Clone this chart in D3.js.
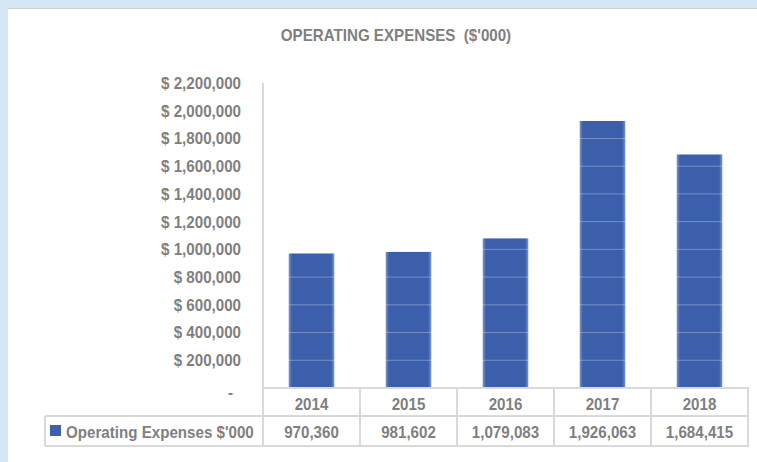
<!DOCTYPE html>
<html><head><meta charset="utf-8">
<script src="https://cdn.jsdelivr.net/npm/d3@7"></script>
<style>
html,body{margin:0;padding:0;background:#d5e6f5;}
svg{display:block;}
</style></head>
<body>
<script>
const categories = ["2014","2015","2016","2017","2018"];
const values = [970360, 981602, 1079083, 1926063, 1684415];
const valueLabels = ["970,360","981,602","1,079,083","1,926,063","1,684,415"];
const yTicks = [0,200000,400000,600000,800000,1000000,1200000,1400000,1600000,1800000,2000000,2200000];
const seriesName = "Operating Expenses $'000";
const title = "OPERATING EXPENSES  ($'000)";

const W = 757, H = 462;
const svg = d3.select("body").append("svg").attr("width", W).attr("height", H);
const font = "'Liberation Sans', Arial, sans-serif";
const fs = "17px";
const condense = 0.89;
const gray = "#7f7f7f";
const border = "#d9d9d9";

// panel
svg.append("rect").attr("x",8).attr("y",8).attr("width",W-8).attr("height",H-8).attr("fill","#fff");
svg.append("line").attr("x1",8).attr("x2",W).attr("y1",8.5).attr("y2",8.5).attr("stroke","#c9cfd6").attr("stroke-width",1);

const x0 = 263, x1 = 748, yTop = 83, yZero = 388;
const x = d3.scaleBand().domain(categories).range([x0, x1]).paddingInner(0.53).paddingOuter(0.265);
const xCell = d3.scaleBand().domain(categories).range([x0, x1]);
const y = d3.scaleLinear().domain([0, 2200000]).range([yZero, yTop]);

// title
svg.append("text").attr("x", 396).attr("y", 41).attr("text-anchor","middle")
  .attr("font-family", font).attr("font-weight","bold").attr("font-size", fs).attr("fill", gray)
  .style("white-space","pre").text(title);

// gradient for bars
const defs = svg.append("defs");
const grad = defs.append("linearGradient").attr("id","barGrad").attr("x1","0").attr("x2","1").attr("y1","0").attr("y2","0");
grad.append("stop").attr("offset","0%").attr("stop-color","#7b95cf");
grad.append("stop").attr("offset","7%").attr("stop-color","#3b5fab");
grad.append("stop").attr("offset","93%").attr("stop-color","#3b5fab");
grad.append("stop").attr("offset","100%").attr("stop-color","#7b95cf");

// bars
svg.append("g").selectAll("rect").data(values).join("rect")
  .attr("x", (d,i) => x(categories[i]))
  .attr("width", x.bandwidth())
  .attr("y", d => y(d))
  .attr("height", d => y(0) - y(d))
  .attr("fill", "url(#barGrad)");

// faint gridlines over bars
svg.append("g").selectAll("line").data(yTicks.filter(t => t > 0)).join("line")
  .attr("x1", x0).attr("x2", x1)
  .attr("y1", d => y(d)).attr("y2", d => y(d))
  .attr("stroke", "#ffffff").attr("stroke-opacity", 0.3).attr("stroke-width", 1);

// y axis
const yAxis = d3.axisLeft(y).tickValues(yTicks).tickSize(0).tickPadding(22)
  .tickFormat(d => d === 0 ? "-" : "$ " + d3.format(",")(d));
const ga = svg.append("g").attr("transform", `translate(${x0},0)`).call(yAxis);
ga.select(".domain").remove();
ga.selectAll("text").attr("font-family", font).attr("font-weight","bold").attr("font-size", fs).attr("fill", gray);
ga.selectAll(".tick").filter(d => d === 0).select("text").attr("dy","0.55em").attr("dx","-8");
svg.append("line").attr("x1", x0).attr("x2", x0).attr("y1", yTop).attr("y2", 446)
  .attr("stroke", border).attr("stroke-width", 2);

// data table
const rowTop = 388, rowMid = 416, rowBot = 446, legendLeft = 45;
const tg = svg.append("g");
tg.append("line").attr("x1", x0).attr("x2", x1+1).attr("y1", rowTop).attr("y2", rowTop).attr("stroke", border).attr("stroke-width",2);
tg.append("line").attr("x1", legendLeft).attr("x2", x1+1).attr("y1", rowMid).attr("y2", rowMid).attr("stroke", border).attr("stroke-width",2);
tg.append("line").attr("x1", legendLeft).attr("x2", x1+1).attr("y1", rowBot).attr("y2", rowBot).attr("stroke", border).attr("stroke-width",2);
tg.append("line").attr("x1", legendLeft).attr("x2", legendLeft).attr("y1", rowMid).attr("y2", rowBot).attr("stroke", border).attr("stroke-width",2);
tg.selectAll("line.v").data(categories).join("line").attr("class","v")
  .attr("x1", d => xCell(d) + xCell.bandwidth()).attr("x2", d => xCell(d) + xCell.bandwidth())
  .attr("y1", rowTop).attr("y2", rowBot).attr("stroke", border).attr("stroke-width",2);

tg.selectAll("text.cat").data(categories).join("text").attr("class","cat")
  .attr("x", d => xCell(d) + xCell.bandwidth()/2).attr("y", 410).attr("text-anchor","middle")
  .attr("font-family", font).attr("font-weight","bold").attr("font-size", fs).attr("fill", gray)
  .text(d => d);
tg.selectAll("text.val").data(valueLabels).join("text").attr("class","val")
  .attr("x", (d,i) => xCell(categories[i]) + xCell.bandwidth()/2).attr("y", 438).attr("text-anchor","middle")
  .attr("font-family", font).attr("font-weight","bold").attr("font-size", fs).attr("fill", gray)
  .text(d => d);

// legend key
tg.append("rect").attr("x", 50).attr("y", 425).attr("width", 11).attr("height", 11).attr("fill", "#3b5fab");
tg.append("text").attr("x", 66).attr("y", 438)
  .attr("font-family", font).attr("font-weight","bold").attr("font-size", fs).attr("fill", gray)
  .text(seriesName);

// condense all text horizontally (narrow look of the original)
svg.selectAll("text").each(function() {
  const len = this.getComputedTextLength();
  if (len > 0) d3.select(this).attr("textLength", len * condense).attr("lengthAdjust", "spacingAndGlyphs");
});
</script>
</body></html>
